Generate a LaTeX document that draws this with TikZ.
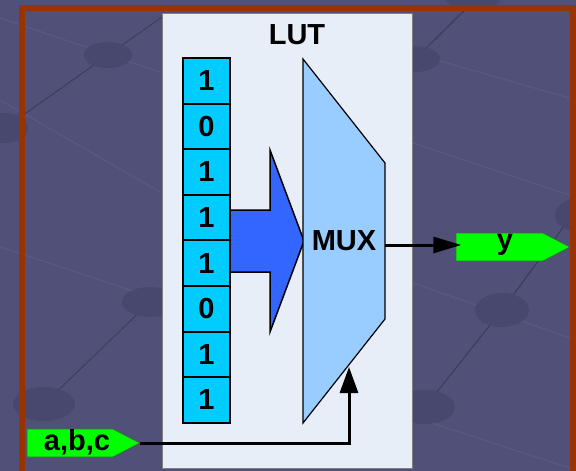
\documentclass[tikz,border=0pt]{standalone}
\usepackage{fontspec}
\setmainfont{Liberation Sans}
\usetikzlibrary{arrows.meta}
\definecolor{bgc}{RGB}{80,80,120}
\definecolor{spotc}{RGB}{72,72,110}
\definecolor{darkln}{RGB}{58,58,90}
\definecolor{lightln}{RGB}{90,90,132}
\definecolor{framec}{RGB}{153,51,0}
\definecolor{lutc}{RGB}{232,238,248}
\definecolor{cellc}{RGB}{0,204,255}
\definecolor{muxc}{RGB}{153,204,255}
\definecolor{bigarr}{RGB}{51,102,255}
\definecolor{sigc}{RGB}{0,255,0}
\definecolor{sigedge}{RGB}{60,110,60}
\tikzset{
  bitcell/.style={draw=black,line width=2pt,fill=cellc,minimum width=47pt,minimum height=45.6pt,inner sep=0pt,font=\bfseries\fontsize{29}{29}\selectfont},
  lbl/.style={inner sep=0pt,font=\bfseries\fontsize{29}{29}\selectfont},
  sigshape/.style={fill=sigc,draw=sigedge,line width=0.8pt},
  wire/.style={line width=3pt,draw=black},
  spot/.style={fill=spotc},
}
\begin{document}
\begin{tikzpicture}[x=1pt,y=-1pt]
\useasboundingbox (0,0) rectangle (576,471);
% background
\fill[bgc] (0,0) rectangle (576,471);
\draw[lightln,line width=1pt] (0,18) -- (160,72);
\draw[lightln,line width=1pt] (0,100) -- (160,192);
\draw[lightln,line width=1pt] (0,247) -- (160,300);
\draw[lightln,line width=1pt] (437,60) -- (576,100);
\draw[lightln,line width=1pt] (413,143) -- (576,197);
\draw[lightln,line width=1pt] (413,283) -- (576,340);
\draw[lightln,line width=1pt] (413,417) -- (576,470);
\draw[darkln,line width=0.8pt] (5,128) -- (108,55) -- (165,15);
\draw[darkln,line width=0.8pt] (44,404) -- (150,302);
\draw[darkln,line width=1pt] (415,59) -- (475,0);
\draw[darkln,line width=1pt] (425,407) -- (502,310) -- (576,210);
\fill[spot] (108,55) ellipse [x radius=24,y radius=13];
\fill[spot] (5,128) ellipse [x radius=23,y radius=15];
\fill[spot] (150,302) ellipse [x radius=28,y radius=15];
\fill[spot] (44,404) ellipse [x radius=31,y radius=17];
\fill[spot] (415,59) ellipse [x radius=25,y radius=13];
\fill[spot] (473,0) ellipse [x radius=27,y radius=8];
\fill[spot] (502,310) ellipse [x radius=27,y radius=17];
\fill[spot] (425,407) ellipse [x radius=30,y radius=17];
\fill[spot] (580,215) ellipse [x radius=25,y radius=17];
% frame
\draw[framec,line width=6pt] (22,480) -- (22,8) -- (573,8) -- (573,480);
% LUT box
\draw[fill=lutc,draw=gray,line width=1pt] (162,13) rectangle (412,468);
\node[lbl] (lut) at (297,35) {LUT};
% bit cells
\foreach \b [count=\i from 0] in {1,0,1,1,1,0,1,1} {
  \node[bitcell] (c\i) at (206.5,{58+45.6*\i+22.8}) {\b};
}
% big arrow
\draw[fill=bigarr,draw=black,line width=1.5pt,line join=miter]
  (230,210) -- (270,210) -- (270,150) -- (304,241) -- (270,332) -- (270,272) -- (230,272) -- cycle;
% MUX
\draw[fill=muxc,draw=black,line width=1.2pt]
  (303,59) -- (385,163) -- (385,319) -- (303,423) -- cycle;
\node[lbl] (mux) at (344,241) {MUX};
\coordinate (muxout) at (385,245);
\coordinate (muxsel) at (349,367);
% output signal y
\fill[sigshape] (456,233) -- (543,233) -- (570,247) -- (543,261) -- (456,261) -- cycle;
\node[lbl,minimum width=87pt,minimum height=28pt] (y) at (505,245) {y};
% input signal a,b,c
\fill[sigshape] (27,429) -- (113,429) -- (140,443) -- (113,457) -- (27,457) -- cycle;
\node[lbl,minimum width=86pt,minimum height=28pt] (abc) at (77,442) {a,b,c};
\coordinate (abctip) at (140,443);
% connectors
\draw[wire,-{Triangle[length=28pt,width=16pt]}] (muxout) -- (muxout -| y.west);
\draw[wire,-{Triangle[length=26pt,width=18pt]}] (abctip) -| (muxsel);
\end{tikzpicture}
\end{document}
